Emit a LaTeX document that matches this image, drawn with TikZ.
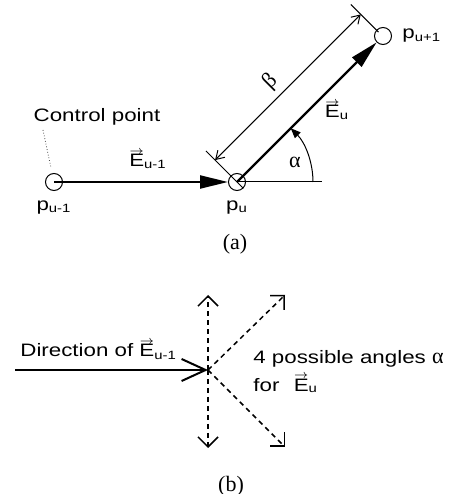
\documentclass[tikz,border=0pt]{standalone}
\usepackage{fontspec}
\setmainfont[FakeStretch=1.24]{Liberation Sans}
\newfontfamily\capfont{Liberation Serif}
\usetikzlibrary{arrows.meta,calc,positioning}

\newcommand\vecE{\leavevmode\vbox{\offinterlineskip\halign{\hfil##\hfil\cr$\scriptstyle\rightarrow$\cr\noalign{\kern0pt}E\cr}}}
\newcommand\galpha{{\capfont α}}
\newcommand\gbeta{{\capfont β}}

\begin{document}
\begin{tikzpicture}[x=0.5pt,y=0.5pt,font=\fontsize{9}{11}\selectfont,
    cpoint/.style={draw,circle,line width=0.5pt,minimum size=8.5pt,inner sep=0pt},
    lbl/.style={inner sep=1pt},
    thinline/.style={line width=0.5pt},
    vecline/.style={line width=1.1pt,-{Triangle[length=14pt,width=6.5pt]}},
    dimline/.style={line width=0.5pt,{Straight Barb[length=4pt,width=5pt]}-{Straight Barb[length=4pt,width=5pt]}},
    leader/.style={black!70,densely dotted,line width=0.4pt,shorten >=3pt},
    dashvec/.style={dash pattern=on 2.5pt off 2pt,line width=0.75pt,-{Straight Barb[length=5pt,width=10pt]}},
    greek/.style={font=\fontsize{11}{13}\selectfont},
    caption/.style={font=\capfont\fontsize{11}{13}\selectfont}]
  \useasboundingbox (0,0) rectangle (452,494);
  % (a) the two vectors
  \node[cpoint] (pa) at (54,312) {};
  \node[cpoint] (pb) at (237,312) {};
  \node[cpoint] (pc) at (383,458) {};
  \coordinate (base) at (322,312);
  \draw[thinline] (pb.center) -- (base);
  \draw[vecline] (pa.center) -- (pb);
  \draw[vecline] (pb.center) -- (pc);
  \draw[thinline,-{Triangle[length=5pt,width=4pt]}] ($(pb.center)+(76,0)$) arc[start angle=0,end angle=45,radius=76];
  % length beta
  \begin{scope}[shift={(pb.center)},rotate=45]
    \coordinate (t1a) at (0,-9);
    \coordinate (t1b) at (0,44);
    \coordinate (t2a) at (206,6);
    \coordinate (t2b) at (206,45);
    \coordinate (d1) at (0,31);
    \coordinate (d2) at (206,31);
    \draw[thinline] (t1a) -- (t1b);
    \draw[thinline] (t2a) -- (t2b);
    \draw[dimline] (d1) -- (d2);
    \node[greek,rotate=45] (beta) at (95,47) {\gbeta};
  \end{scope}
  \node[lbl] (cp) at (97,377) {Control point};
  \coordinate (cpfoot) at (43,364);
  \draw[leader] (cpfoot) -- (pa);
  \node[lbl] (Eprev) at (148,335) {\vecE\textsubscript{u-1}};
  \node[lbl] (Ecur) at (337,384) {\vecE\textsubscript{u}};
  \node[lbl,greek] (alpha) at (295,332) {\galpha};
  \node[lbl,below=3.5pt of pa] (lpa) {p\textsubscript{u-1}};
  \node[lbl,below=3.5pt of pb] (lpb) {p\textsubscript{u}};
  \node[lbl,right=4pt of pc] (lpc) {p\textsubscript{u+1}};
  \node[caption] (capa) at (235,250) {(a)};
  % (b) the possible directions
  \coordinate (o) at (208,124);
  \coordinate (tail) at (15,124);
  \coordinate (up) at (208,199);
  \coordinate (dn) at (208,46);
  \coordinate (ne) at (285,199);
  \coordinate (se) at (285,47);
  \draw[line width=1pt,-{Straight Barb[length=12pt,width=11pt]}] (tail) -- (o);
  \foreach \t in {up,dn,ne,se}
    \draw[dashvec] (o) -- (\t);
  \node[inner sep=0pt,anchor=base west] (dir) at (20,137) {Direction of \vecE\textsubscript{u-1}};
  \node[inner sep=0pt,anchor=base west] (poss) at (253,130) {4 possible angles {\fontsize{11}{13}\selectfont\galpha}};
  \node[inner sep=0pt,anchor=base west] (forE) at (253,103) {for\hspace{0.8em}\vecE\textsubscript{u}};
  \node[caption] (capb) at (231,8) {(b)};
\end{tikzpicture}
\end{document}
